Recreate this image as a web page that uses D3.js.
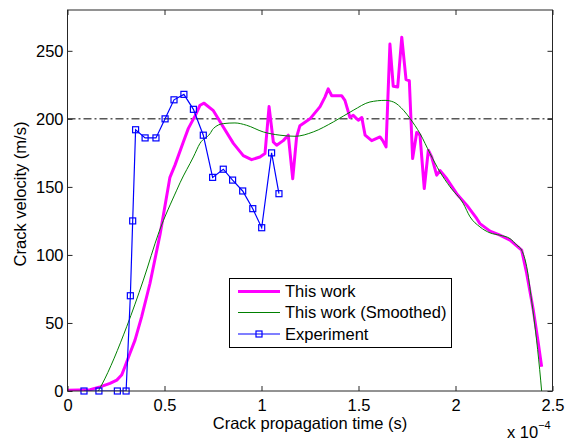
<!DOCTYPE html>
<html>
<head>
<meta charset="utf-8">
<script src="https://cdn.jsdelivr.net/npm/d3@7"></script>
<style>
    body { margin: 0; background: #fff; }
    svg text { font-family: "Liberation Sans", Arial, sans-serif; fill: #000; }
</style>
</head>
<body>
<svg id="chart" width="565" height="441"></svg>
<script>
// time in units of 1e-4 s, velocity in m/s
var workTime = [0, 0.116, 0.168, 0.219, 0.254, 0.279, 0.296, 0.322, 0.348, 0.382, 0.425, 0.477,
    0.528, 0.554, 0.597, 0.623, 0.657, 0.683, 0.704, 0.752, 0.803, 0.855, 0.906, 0.949, 0.992,
    1.018, 1.039, 1.061, 1.078, 1.112, 1.138, 1.161, 1.181, 1.198, 1.25, 1.302, 1.327, 1.344,
    1.362, 1.413, 1.43, 1.456, 1.473, 1.499, 1.517, 1.534, 1.568, 1.611, 1.625, 1.642, 1.662,
    1.679, 1.702, 1.723, 1.745, 1.762, 1.779, 1.8, 1.817, 1.839, 1.86, 1.877, 1.903, 1.92,
    1.955, 2.006, 2.058, 2.109, 2.126, 2.178, 2.229, 2.281, 2.341, 2.367, 2.401, 2.427, 2.444];
var workVel = [0.5, 1, 3, 5.6, 8, 11.7, 17.8, 27.7, 37.4, 54.5, 79, 115,
    157, 166, 183, 193, 202, 210, 211.5, 206, 194, 182, 173, 170, 172,
    174.5, 209, 183, 180.6, 184, 188, 156, 186.7, 195, 200, 209, 216, 222,
    217, 217, 213.6, 201, 202.6, 199, 201, 188, 184, 186.7, 184, 179.4, 255,
    224, 223.4, 260, 228.8, 228, 170.8, 190, 188, 148.8, 177, 172, 158.6, 162,
    156, 145, 136.6, 126.8, 123, 117.5, 114.5, 110.9, 103.5, 86.4, 59.5, 35, 17.8];

var smoothTime = [0.159, 0.176, 0.305, 0.391, 0.472, 0.563, 0.58, 0.649, 0.683, 0.734, 0.752,
    0.803, 0.863, 0.923, 1.009, 1.095, 1.173, 1.267, 1.37, 1.473, 1.559, 1.637, 1.68, 1.732,
    1.766, 1.817, 1.869, 1.92, 1.972, 2.04, 2.075, 2.126, 2.178, 2.229, 2.281, 2.316, 2.341,
    2.367, 2.392, 2.418, 2.439, 2.444];
var smoothVel = [0, 4.4, 47.2, 81.5, 117, 147.6, 153, 172, 182, 189, 192.9,
    196.5, 197, 195.3, 190.4, 188, 187.2, 190.4, 197.7, 206.3, 212.4, 213.6, 212.4, 206.3,
    200.2, 189.2, 174.5, 161, 150, 137.8, 128, 120.6, 116.2, 114.5, 112, 107.2, 103.5,
    91.3, 66.8, 37.4, 8, 0];

var expTime = [0.085, 0.162, 0.257, 0.302, 0.324, 0.336, 0.351, 0.4, 0.456, 0.503, 0.549, 0.6,
    0.649, 0.7, 0.748, 0.803, 0.851, 0.903, 0.955, 1.001, 1.052, 1.09];
var expVel = [0, 0, 0, 0, 70, 125, 192, 186, 186, 200, 214, 218,
    207, 188, 157, 163, 155, 147, 134, 120, 175, 145];

var refVelocity = 200;

var xTicks = [0, 0.5, 1, 1.5, 2, 2.5];
var yTicks = [0, 50, 100, 150, 200, 250];
var legendLabels = ["This work", "This work (Smoothed)", "Experiment"];

var margin = {left: 67.5, top: 10, right: 12.5, bottom: 50};
var W = 565, H = 441;
var fontSize = "16.5px";

var svg = d3.select("#chart");

var x = d3.scaleLinear().domain([0, 2.5]).range([margin.left, W - margin.right]);
var y = d3.scaleLinear().domain([0, 280]).range([H - margin.bottom, margin.top]);

function zip(a, b) {
    return a.map(function(v, i) { return [v, b[i]]; });
}

var line = d3.line()
    .x(function(d) { return x(d[0]); })
    .y(function(d) { return y(d[1]); });

svg.append("clipPath").attr("id", "plotclip")
    .append("rect")
    .attr("x", x(0)).attr("y", y(280))
    .attr("width", x(2.5) - x(0)).attr("height", y(0) - y(280));

var plot = svg.append("g").attr("clip-path", "url(#plotclip)");

// reference level
plot.append("line")
    .attr("x1", x(0)).attr("x2", x(2.5))
    .attr("y1", y(refVelocity)).attr("y2", y(refVelocity))
    .attr("stroke", "#000")
    .attr("stroke-width", 1)
    .attr("stroke-dasharray", "8,3,2,3");

plot.append("path")
    .datum(zip(workTime, workVel))
    .attr("d", line)
    .attr("fill", "none")
    .attr("stroke", "#ff00ff")
    .attr("stroke-width", 3)
    .attr("stroke-linejoin", "round");

plot.append("path")
    .datum(zip(smoothTime, smoothVel))
    .attr("d", line.curve(d3.curveMonotoneX))
    .attr("fill", "none")
    .attr("stroke", "#008000")
    .attr("stroke-width", 1);

line.curve(d3.curveLinear);

var expData = zip(expTime, expVel);
plot.append("path")
    .datum(expData)
    .attr("d", line)
    .attr("fill", "none")
    .attr("stroke", "#0000ff")
    .attr("stroke-width", 1.2);

var sq = 6;
svg.selectAll(".marker").data(expData)
    .enter()
    .append("rect")
    .attr("class", "marker")
    .attr("x", function(d) { return x(d[0]) - sq / 2; })
    .attr("y", function(d) { return y(d[1]) - sq / 2; })
    .attr("width", sq)
    .attr("height", sq)
    .attr("fill", "none")
    .attr("stroke", "#0000ff")
    .attr("stroke-width", 1.2);

// axes, ticks inward on all four sides
var tickLen = 5;
var xBottom = d3.axisBottom(x).tickValues(xTicks).tickSizeInner(-tickLen).tickSizeOuter(0)
    .tickPadding(8).tickFormat(d3.format("~g"));
var xTop = d3.axisTop(x).tickValues(xTicks).tickSizeInner(-tickLen).tickSizeOuter(0).tickFormat("");
var yLeft = d3.axisLeft(y).tickValues(yTicks).tickSizeInner(-tickLen).tickSizeOuter(0)
    .tickPadding(4).tickFormat(d3.format("d"));
var yRight = d3.axisRight(y).tickValues(yTicks).tickSizeInner(-tickLen).tickSizeOuter(0).tickFormat("");

function styleAxis(g) {
    g.select(".domain").remove();
    g.selectAll(".tick line").attr("stroke", "#262626");
    g.selectAll("text").style("font-size", fontSize).attr("fill", "#000");
}

svg.append("g").attr("transform", "translate(0," + y(0) + ")").call(xBottom).call(styleAxis);
svg.append("g").attr("transform", "translate(0," + y(280) + ")").call(xTop).call(styleAxis);
svg.append("g").attr("transform", "translate(" + x(0) + ",0)").call(yLeft).call(styleAxis);
svg.append("g").attr("transform", "translate(" + x(2.5) + ",0)").call(yRight).call(styleAxis);

svg.append("rect")
    .attr("x", x(0)).attr("y", y(280))
    .attr("width", x(2.5) - x(0)).attr("height", y(0) - y(280))
    .attr("fill", "none")
    .attr("stroke", "#262626")
    .attr("stroke-width", 1);

// labels
svg.append("text")
    .attr("x", (x(0) + x(2.5)) / 2)
    .attr("y", 429)
    .attr("text-anchor", "middle")
    .style("font-size", fontSize)
    .text("Crack propagation time (s)");

svg.append("text")
    .attr("transform", "translate(26," + 194 + ") rotate(-90)")
    .attr("text-anchor", "middle")
    .style("font-size", fontSize)
    .text("Crack velocity (m/s)");

var expo = svg.append("text")
    .attr("x", 507)
    .attr("y", 438)
    .style("font-size", fontSize);
expo.append("tspan").text("x 10");
expo.append("tspan").attr("dy", -9).style("font-size", "11px").text("\u22124");

// legend
var lg = svg.append("g");
lg.append("rect")
    .attr("x", 229.5).attr("y", 278.5)
    .attr("width", 222).attr("height", 69)
    .attr("fill", "#fff")
    .attr("stroke", "#000")
    .attr("stroke-width", 1);

var legendStyles = [
    {color: "#ff00ff", width: 3, marker: false},
    {color: "#008000", width: 1, marker: false},
    {color: "#0000ff", width: 1.2, marker: true}
];
var rowY = [291.5, 312.5, 334];

legendLabels.forEach(function(label, i) {
    var s = legendStyles[i];
    lg.append("line")
        .attr("x1", 238).attr("x2", 280)
        .attr("y1", rowY[i]).attr("y2", rowY[i])
        .attr("stroke", s.color)
        .attr("stroke-width", s.width);
    if (s.marker) {
        lg.append("rect")
            .attr("x", 259 - sq / 2).attr("y", rowY[i] - sq / 2)
            .attr("width", sq).attr("height", sq)
            .attr("fill", "none")
            .attr("stroke", s.color)
            .attr("stroke-width", 1.2);
    }
    lg.append("text")
        .attr("x", 285)
        .attr("y", rowY[i])
        .attr("dy", "0.35em")
        .style("font-size", fontSize)
        .text(label);
});
</script>
</body>
</html>
